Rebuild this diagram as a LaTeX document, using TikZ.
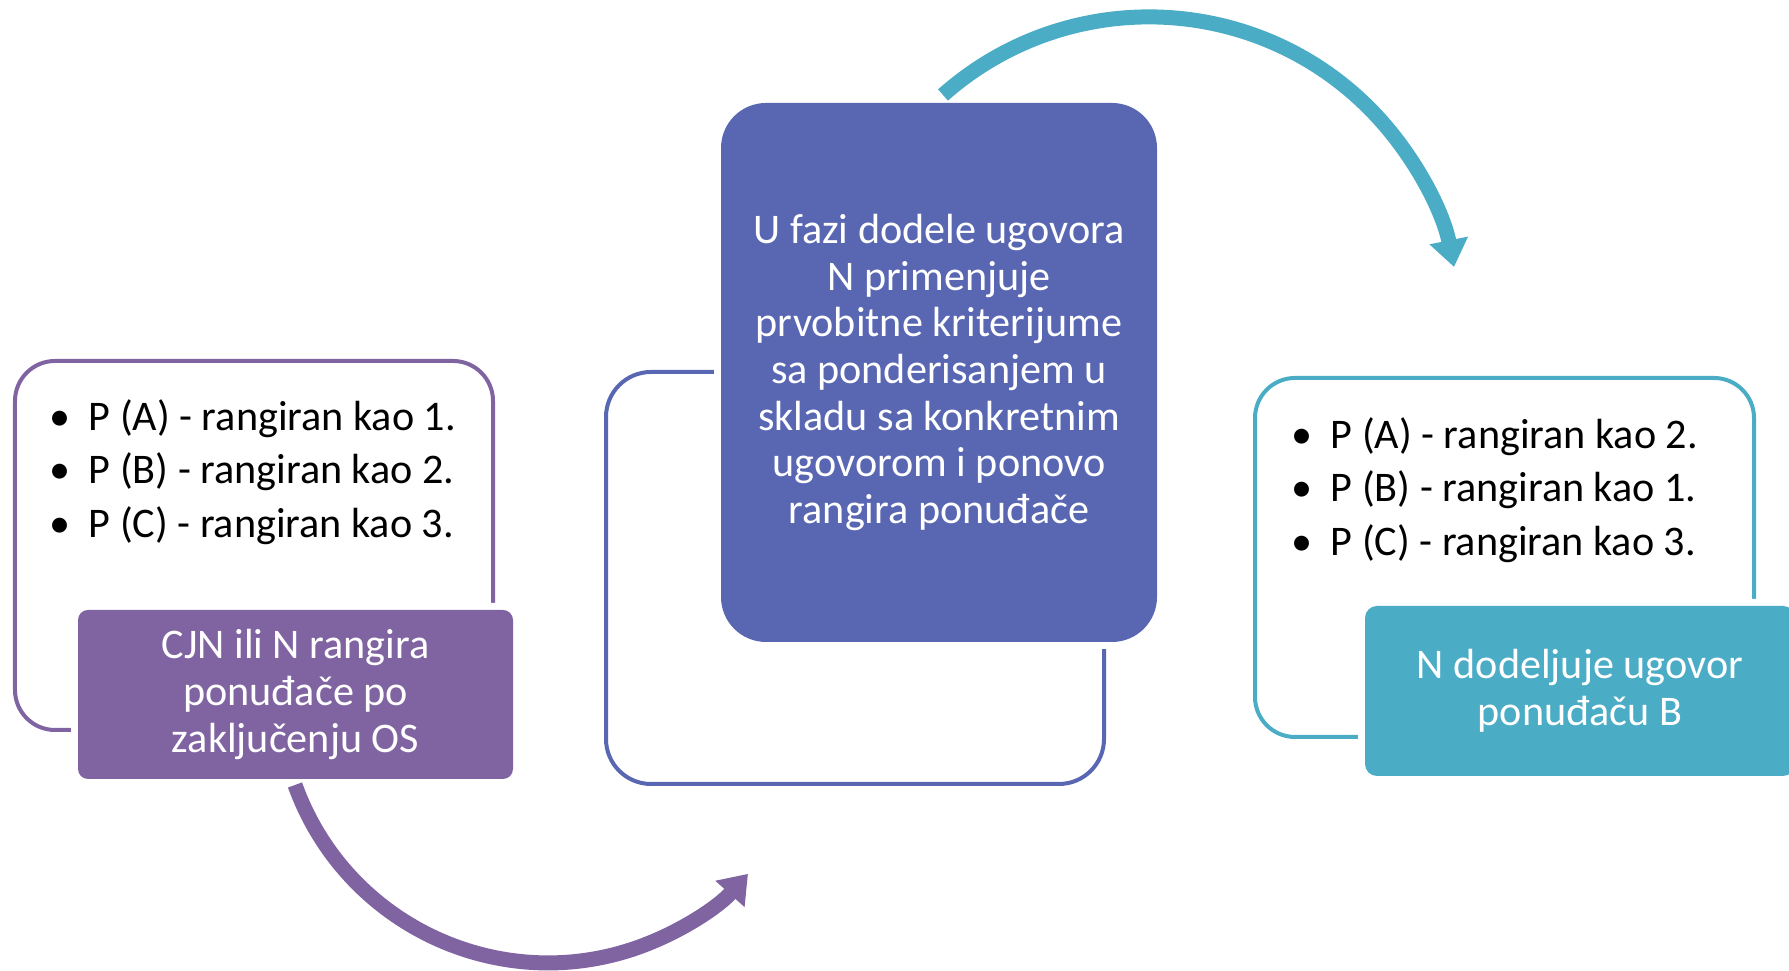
\documentclass[tikz,border=0pt]{standalone}
\usepackage{fontspec}
\setmainfont{Carlito}
\usepackage{tikz}
\usetikzlibrary{arrows.meta}
\definecolor{Lila}{HTML}{8064A2}
\definecolor{Indigo}{HTML}{5967B3}
\definecolor{Tirkiz}{HTML}{4BACC6}
\newcommand{\bul}{\makebox[0.39cm][l]{•}}

\begin{document}
\begin{tikzpicture}
				\tikzstyle{Frame}	= [draw, line width=0.04cm, rounded corners=0.4cm, inner sep=0pt]
				\tikzstyle{Step}	= [text=white, align=center, inner sep=0pt, rounded corners=0.1cm, font=\fontsize{12}{13.3}\selectfont, preaction={draw=white, line width=0.14cm}]
				\tikzstyle{Bullets}	= [anchor=west, align=left, inner sep=0pt, font=\fontsize{12}{15.2}\selectfont]
				\tikzstyle{Turn}	= [line width=0.15cm, -{Triangle[width=0.375cm, length=0.27cm]}]

				\useasboundingbox (0,0) rectangle (17.89,9.71);

				\node (f1) at (2.54,4.255) [Frame][draw=Lila, minimum width=4.78cm, minimum height=3.69cm] {};
				\node (f2) at (8.55,3.93) [Frame][draw=Indigo, rounded corners=0.45cm, minimum width=4.98cm, minimum height=4.12cm] {};
				\node (f3) at (15.045,4.135) [Frame][draw=Tirkiz, minimum width=4.99cm, minimum height=3.59cm] {};

				\node (s1) at (2.955,2.765) [Step][fill=Lila, minimum width=4.35cm, minimum height=1.69cm] {CJN ili N rangira\\ponuđače po\\zaključenju OS};
				\node (s2) at (9.39,5.985) [Step][fill=Indigo, rounded corners=0.45cm, minimum width=4.36cm, minimum height=5.39cm] {U fazi dodele ugovora\\N primenjuje\\prvobitne kriterijume\\sa ponderisanjem u\\skladu sa konkretnim\\ugovorom i ponovo\\rangira ponuđače};
				\node (s3) at (15.80,2.80) [Step][fill=Tirkiz, rounded corners=0.12cm, minimum width=4.30cm, minimum height=1.70cm] {N dodeljuje ugovor\\ponuđaču B};

				\node (l1) at (0.49,4.99) [Bullets] {\bul P (A) - rangiran kao 1.\\\bul P (B) - rangiran kao 2.\\\bul P (C) - rangiran kao 3.};
				\node (l3) at (12.91,4.81) [Bullets] {\bul P (A) - rangiran kao 2.\\\bul P (B) - rangiran kao 1.\\\bul P (C) - rangiran kao 3.};

				\coordinate (a1) at (2.95,1.86);
				\coordinate (a2) at (9.43,8.76);
				\draw[Turn, Lila] (a1) arc[start angle=199.8, end angle=318, radius=2.69];
				\draw[Turn, Tirkiz] (a2) arc[start angle=131.5, end angle=11.3, radius=3.11];

			\end{tikzpicture}
\end{document}
